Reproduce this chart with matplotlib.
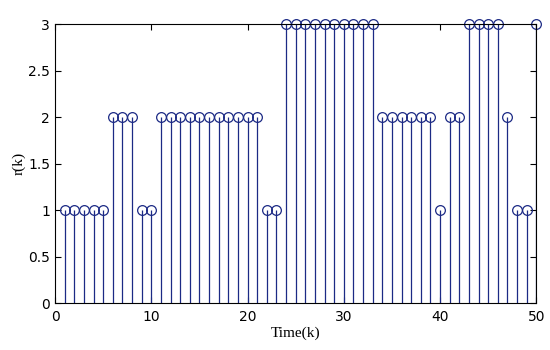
import numpy as np
import matplotlib.pyplot as plt

# r(k) for k = 1..50
k = np.arange(1, 51)
r = [1, 1, 1, 1, 1, 2, 2, 2, 1, 1,
     2, 2, 2, 2, 2, 2, 2, 2, 2, 2,
     2, 1, 1, 3, 3, 3, 3, 3, 3, 3,
     3, 3, 3, 2, 2, 2, 2, 2, 2, 1,
     2, 2, 3, 3, 3, 3, 2, 1, 1, 3]

col = '#1c2a85'

fig = plt.figure(figsize=(5.5, 3.5), dpi=100)
ax = fig.add_axes([0.1, 0.134, 0.875, 0.797])

markers, stems, base = ax.stem(k, r, basefmt=' ')
plt.setp(stems, color=col, linewidth=0.9)
plt.setp(markers, color=col, markerfacecolor='none', markersize=7,
         markeredgewidth=0.9, clip_on=False)

ax.set_xlim(0, 50)
ax.set_ylim(0, 3)
ax.set_xticks([0, 10, 20, 30, 40, 50])
ax.set_yticks([0, 0.5, 1, 1.5, 2, 2.5, 3])
ax.set_yticklabels(['0', '0.5', '1', '1.5', '2', '2.5', '3'])
ax.tick_params(direction='in', top=True, right=True, labelsize=10, length=4)
ax.tick_params(axis='x', pad=5)
for s in ax.spines.values():
    s.set_linewidth(0.8)

ax.set_xlabel('Time(k)', family='Liberation Serif', fontsize=11, labelpad=2)
ax.set_ylabel('r(k)', family='Liberation Serif', fontsize=11, labelpad=2)

fig.savefig('out.png')
